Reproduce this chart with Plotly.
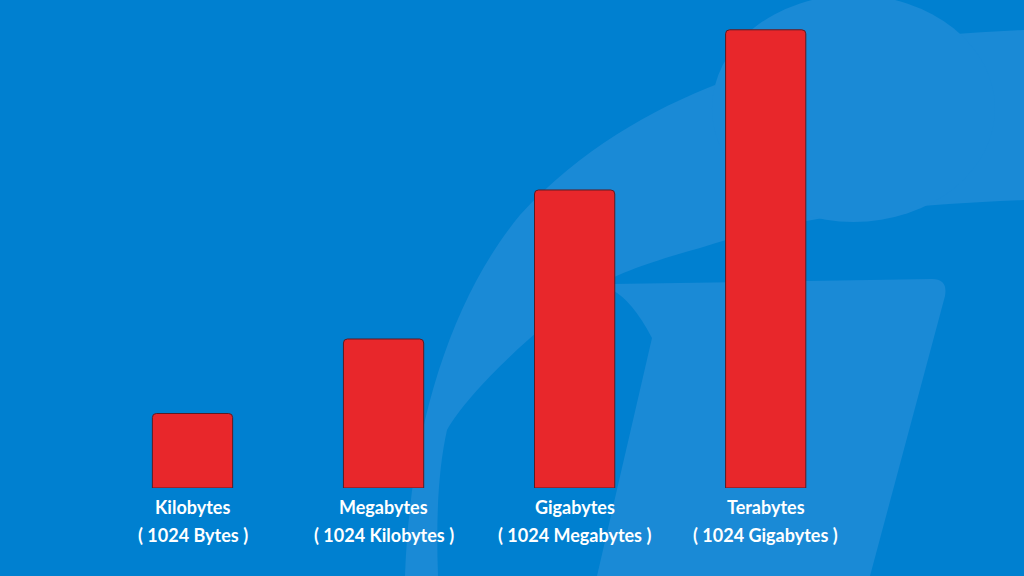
import plotly.graph_objects as go

# ---- data ----
categories = ["Kilobytes", "Megabytes", "Gigabytes", "Terabytes"]
sub_labels = ["( 1024 Bytes )", "( 1024 Kilobytes )", "( 1024 Megabytes )", "( 1024 Gigabytes )"]
relative_size = [1, 2, 4, 6.15]

W, H = 1024, 576
BG = "#0080d0"
LIGHT = "#1a8ad6"
BAR = "#e8272b"


def px_path(segments):
    """Build an SVG path in paper units from pixel-space points (decorative background)."""
    out = []
    for cmd, pts in segments:
        coords = " ".join(f"{x / W:.5f},{1 - y / H:.5f}" for x, y in pts)
        out.append(f"{cmd}{coords}" if pts else cmd)
    return " ".join(out)


ring = px_path([
    ("M", [(405, 576)]),
    ("C", [(410, 430), (450, 300), (520, 215)]),
    ("C", [(580, 150), (650, 110), (720, 83)]),
    ("C", [(800, 52), (900, 35), (1024, 30)]),
    ("L", [(1024, 200)]),
    ("C", [(900, 205), (800, 215), (700, 248)]),
    ("C", [(650, 262), (620, 272), (590, 290)]),
    ("C", [(540, 325), (470, 390), (447, 430)]),
    ("C", [(438, 470), (436, 520), (438, 576)]),
    ("Z", []),
])

stem = px_path([
    ("M", [(612, 284)]),
    ("L", [(932, 279)]),
    ("Q", [(948, 279), (945, 296)]),
    ("L", [(870, 576)]),
    ("L", [(597, 576)]),
    ("L", [(652, 338)]),
    ("Q", [(632, 300), (612, 290)]),
    ("Z", []),
])

shapes = [
    dict(type="path", path=ring, xref="paper", yref="paper", fillcolor=LIGHT,
         line=dict(width=0), layer="below"),
    dict(type="path", path=stem, xref="paper", yref="paper", fillcolor=LIGHT,
         line=dict(width=0), layer="below"),
    dict(type="circle", xref="paper", yref="paper",
         x0=712 / W, x1=995 / W, y0=1 - 222 / H, y1=1 + 5 / H,
         fillcolor=LIGHT, line=dict(width=0), layer="below"),
]

fig = go.Figure(
    go.Bar(
        x=categories,
        y=relative_size,
        width=0.42,
        marker=dict(color=BAR, line=dict(color="#5a1c26", width=1)),
        hoverinfo="skip",
    )
)

annotations = []
for cat, sub in zip(categories, sub_labels):
    annotations.append(dict(x=cat, xref="x", y=1 - 507 / H, yref="paper", text=cat,
                            showarrow=False, xanchor="center", yanchor="middle",
                            font=dict(family="Lato", size=18, color="white", weight="bold")))
    annotations.append(dict(x=cat, xref="x", y=1 - 535 / H, yref="paper", text=sub,
                            showarrow=False, xanchor="center", yanchor="middle",
                            font=dict(family="Lato", size=18, color="white", weight="bold")))

fig.update_layout(
    width=W, height=H,
    margin=dict(l=0, r=0, t=0, b=0),
    paper_bgcolor=BG, plot_bgcolor="rgba(0,0,0,0)",
    barcornerradius=4,
    showlegend=False,
    shapes=shapes,
    annotations=annotations,
    xaxis=dict(visible=False, range=[-1.0076, 4.352], domain=[0, 1]),
    yaxis=dict(visible=False, range=[0, 6.55], domain=[88 / H, 1]),
)

fig.write_html("out.html")
